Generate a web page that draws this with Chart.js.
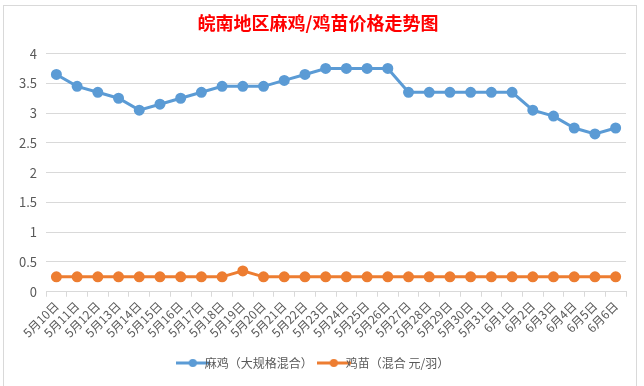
<!DOCTYPE html>
<html><head><meta charset="utf-8">
<script src="https://cdn.jsdelivr.net/npm/chart.js@4"></script>
<style>
html,body{margin:0;padding:0;background:#fff;}
#wrap{position:absolute;left:3px;top:5px;width:634px;height:381px;border:1px solid #d9d9d9;border-bottom:none;box-sizing:border-box;background:#fff;}
canvas{display:block;}
</style></head><body>
<div id="wrap"><canvas id="c" width="632" height="380"></canvas></div>
<script>
const categories = ["5月10日","5月11日","5月12日","5月13日","5月14日","5月15日","5月16日","5月17日","5月18日","5月19日","5月20日","5月21日","5月22日","5月23日","5月24日","5月25日","5月26日","5月27日","5月28日","5月29日","5月30日","5月31日","6月1日","6月2日","6月3日","6月4日","6月5日","6月6日"];
const maji = [3.65,3.45,3.35,3.25,3.05,3.15,3.25,3.35,3.45,3.45,3.45,3.55,3.65,3.75,3.75,3.75,3.75,3.35,3.35,3.35,3.35,3.35,3.35,3.05,2.95,2.75,2.65,2.75];
const jimiao = [0.25,0.25,0.25,0.25,0.25,0.25,0.25,0.25,0.25,0.35,0.25,0.25,0.25,0.25,0.25,0.25,0.25,0.25,0.25,0.25,0.25,0.25,0.25,0.25,0.25,0.25,0.25,0.25];
const seriesNames = ["麻鸡（大规格混合）","鸡苗（混合 元/羽）"];
const titleText = "皖南地区麻鸡/鸡苗价格走势图";

function legendIcon(color){
  const c=document.createElement('canvas');c.width=34;c.height=10;
  const g=c.getContext('2d');
  g.strokeStyle=color;g.lineWidth=3;g.beginPath();g.moveTo(0,5);g.lineTo(34,5);g.stroke();
  g.fillStyle=color;g.beginPath();g.arc(17,5,4,0,Math.PI*2);g.fill();
  return c;
}
const blue="#5b9bd5", orange="#ed7d31";
new Chart(document.getElementById('c'),{
  type:'line',
  data:{labels:categories,datasets:[
    {label:seriesNames[0],data:maji,borderColor:blue,backgroundColor:blue,borderWidth:3,pointRadius:4,pointStyle:'circle',pointBackgroundColor:blue,pointBorderColor:blue,tension:0},
    {label:seriesNames[1],data:jimiao,borderColor:orange,backgroundColor:orange,borderWidth:3,pointRadius:4,pointStyle:'circle',pointBackgroundColor:orange,pointBorderColor:orange,tension:0}
  ]},
  options:{
    responsive:false,animation:false,
    layout:{padding:{left:6,right:10,top:4,bottom:7}},
    plugins:{
      title:{display:true,text:titleText,color:'#ff0000',font:{family:'"Noto Sans CJK SC"',size:18,weight:'bold'},padding:{top:2,bottom:20}},
      legend:{position:'bottom',labels:{usePointStyle:true,color:'#595959',font:{family:'"Noto Sans CJK SC"',size:12},padding:15,boxHeight:10,
        generateLabels:(ch)=>ch.data.datasets.map((d,i)=>({text:d.label,fillStyle:d.borderColor,strokeStyle:d.borderColor,pointStyle:legendIcon(d.borderColor),datasetIndex:i,fontColor:'#595959',lineWidth:0}))}},
      tooltip:{enabled:false}
    },
    scales:{
      x:{offset:true,
        grid:{display:true,drawOnChartArea:false,drawTicks:true,tickLength:5,color:'#d9d9d9',offset:true},
        border:{display:true,color:'#d9d9d9'},
        ticks:{color:'#595959',font:{family:'"Noto Sans CJK SC"',size:12},maxRotation:45,minRotation:45,autoSkip:false,padding:2}},
      y:{min:0,max:4,
        grid:{color:'#d9d9d9',drawTicks:false},
        border:{display:false},
        ticks:{stepSize:0.5,color:'#595959',font:{family:'"Noto Sans CJK SC"',size:13},padding:9,callback:(v)=>String(Number(v))}}
    }
  }
});
</script></body></html>
